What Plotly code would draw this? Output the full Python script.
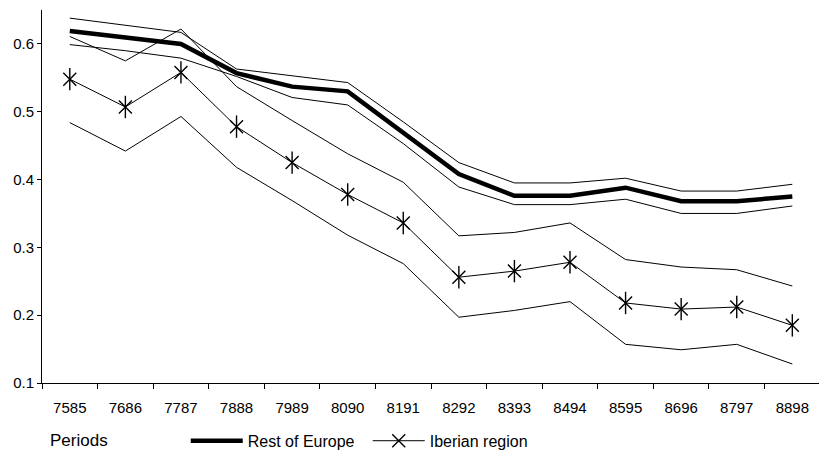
import plotly.graph_objects as go

periods = ["7585", "7686", "7787", "7888", "7989", "8090", "8191",
           "8292", "8393", "8494", "8595", "8696", "8797", "8898"]

rest_mean = [0.619, 0.609, 0.600, 0.557, 0.537, 0.530, 0.470,
             0.408, 0.376, 0.376, 0.388, 0.368, 0.368, 0.375]
rest_upper = [0.638, 0.628, 0.617, 0.563, 0.553, 0.543, 0.485,
              0.425, 0.395, 0.395, 0.402, 0.383, 0.383, 0.393]
rest_lower = [0.599, 0.590, 0.579, 0.552, 0.521, 0.510, 0.453,
              0.389, 0.363, 0.363, 0.371, 0.350, 0.350, 0.361]

iber_mean = [0.548, 0.507, 0.558, 0.478, 0.425, 0.378, 0.336,
             0.256, 0.265, 0.278, 0.218, 0.209, 0.212, 0.185]
iber_upper = [0.611, 0.575, 0.622, 0.537, 0.487, 0.438, 0.396,
              0.317, 0.322, 0.336, 0.282, 0.271, 0.267, 0.243]
iber_lower = [0.484, 0.442, 0.493, 0.418, 0.369, 0.318, 0.276,
              0.197, 0.207, 0.220, 0.157, 0.149, 0.157, 0.128]

FONT = "Liberation Sans, Arial, sans-serif"
thin = dict(color="black", width=1)

fig = go.Figure()
for band in (rest_upper, rest_lower, iber_upper, iber_lower):
    fig.add_trace(go.Scatter(x=periods, y=band, mode="lines", line=thin,
                             showlegend=False, hoverinfo="skip"))

fig.add_trace(go.Scatter(x=periods, y=rest_mean, mode="lines",
                         line=dict(color="black", width=4.5),
                         name="Rest of Europe"))
fig.add_trace(go.Scatter(x=periods, y=iber_mean, mode="lines+markers",
                         line=thin,
                         marker=dict(symbol="x-thin-open", size=13,
                                     color="black",
                                     line=dict(color="black", width=1.4)),
                         name="Iberian region"))
fig.add_trace(go.Scatter(x=periods, y=iber_mean, mode="markers",
                         marker=dict(symbol="line-ns-open", size=16,
                                     color="black",
                                     line=dict(color="black", width=1.4)),
                         showlegend=False, hoverinfo="skip"))

fig.update_layout(
    width=819, height=459,
    margin=dict(l=42, r=0, t=10, b=76),
    paper_bgcolor="white", plot_bgcolor="white",
    font=dict(family=FONT, size=15, color="black"),
    showlegend=True,
    legend=dict(orientation="h", x=0.185, y=-0.155, xanchor="left",
                yanchor="middle", font=dict(size=16), itemwidth=52,
                entrywidth=115, entrywidthmode="pixels",
                bgcolor="rgba(0,0,0,0)", tracegroupgap=0),
    xaxis=dict(type="category", range=[-0.5, 13.48], showgrid=False,
               showline=True, linecolor="black", linewidth=1,
               ticks="outside", tickson="boundaries", ticklen=5,
               tickcolor="black", ticklabelstandoff=11,
               tickfont=dict(size=15), zeroline=False),
    yaxis=dict(range=[0.1, 0.65], tickvals=[0.1, 0.2, 0.3, 0.4, 0.5, 0.6],
               ticktext=["0.1", "0.2", "0.3", "0.4", "0.5", "0.6"],
               showgrid=False, showline=True, linecolor="black",
               linewidth=1, ticks="outside", ticklen=4, tickcolor="black",
               tickfont=dict(size=15), zeroline=False),
    annotations=[dict(text="Periods", xref="paper", yref="paper",
                      x=(48 - 42) / 777, y=-0.155, xanchor="left",
                      yanchor="middle", showarrow=False,
                      font=dict(size=17))],
)

fig.write_html("out.html")
